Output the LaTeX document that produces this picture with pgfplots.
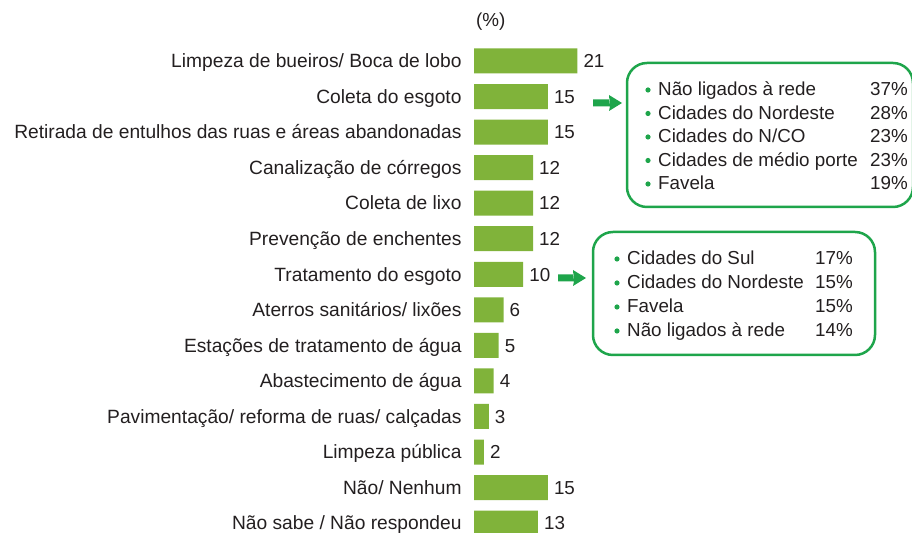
\documentclass[border=0pt]{standalone}
\usepackage{pgfplots}
\pgfplotsset{compat=1.18}
\usepackage{fontspec}
\setmainfont{Liberation Sans}
\definecolor{barg}{HTML}{80B33A}
\definecolor{boxg}{HTML}{1EA54B}
\definecolor{txt}{HTML}{231F20}
\newcommand{\lf}{\fontsize{19.2bp}{21bp}\selectfont}
\newcommand{\tf}{\fontsize{18.8bp}{21bp}\selectfont}
\begin{document}
\begin{tikzpicture}
\path[use as bounding box] (0,0) rectangle (912bp,533bp);
\begin{axis}[
  at={(474bp,489.8bp)}, anchor=north west,
  scale only axis, width=103.32bp, height=497.7bp,
  xmin=0, xmax=21, ymin=-0.5, ymax=13.5, y dir=reverse,
  axis line style={draw=none}, tick style={draw=none}, clip=false,
  xtick=\empty,
  xbar, bar width=25bp,
  ytick={0,...,13},
  yticklabels={Limpeza de bueiros/ Boca de lobo, Coleta do esgoto, Retirada de entulhos das ruas e áreas abandonadas, Canalização de córregos, Coleta de lixo, Prevenção de enchentes, Tratamento do esgoto, Aterros sanitários/ lixões, Estações de tratamento de água, Abastecimento de água, Pavimentação/ reforma de ruas/ calçadas, Limpeza pública, Não/ Nenhum, Não sabe / Não respondeu},
  yticklabel style={font=\lf, text=txt, anchor=base east, inner sep=0pt, xshift=-8bp, yshift=-6.8bp},
  nodes near coords,
  nodes near coords style={font=\tf, text=txt, anchor=base west, inner sep=0pt, xshift=6bp, yshift=-6.8bp},
  /pgf/number format/assume math mode=true,
]
\addplot[fill=barg, draw=none] coordinates {
(21,0) (15,1) (15,2) (12,3) (12,4) (12,5) (10,6) (6,7) (5,8) (4,9) (3,10) (2,11) (15,12) (13,13)};
\end{axis}
\begin{scope}[x=1bp,y=-1bp,yshift=533bp]
\node[font=\tf, text=txt, anchor=base west, inner sep=0pt] at (476,27) {(\%)};
% callout 1
\draw[boxg, line width=2.5bp, rounded corners=20bp] (627,63) rectangle (913,207);
\fill[boxg] (593,99.5) rectangle (610,106.5) -- (609,95) -- (622,103) -- (609,111) -- cycle;
\foreach \t/\p [count=\i from 0] in {Não ligados à rede/37\%, Cidades do Nordeste/28\%, Cidades do N\slash CO/23\%, Cidades de médio porte/23\%, Favela/19\%}{
  \fill[boxg] (648,90+23.5*\i) circle (2.6);
  \node[font=\tf, text=txt, anchor=base west, inner sep=0pt] at (658,96+23.5*\i) {\t};
  \node[font=\tf, text=txt, anchor=base east, inner sep=0pt] at (908,96+23.5*\i) {\p};
}
% callout 2
\draw[boxg, line width=2.5bp, rounded corners=20bp] (593,232) rectangle (875,355);
\fill[boxg] (558,274.5) rectangle (574,281.5) -- (573,270) -- (586,278) -- (573,286) -- cycle;
\foreach \t/\p [count=\i from 0] in {Cidades do Sul/17\%, Cidades do Nordeste/15\%, Favela/15\%, Não ligados à rede/14\%}{
  \fill[boxg] (617,259+24*\i) circle (2.6);
  \node[font=\tf, text=txt, anchor=base west, inner sep=0pt] at (627,265+24*\i) {\t};
  \node[font=\tf, text=txt, anchor=base east, inner sep=0pt] at (853,265+24*\i) {\p};
}
\end{scope}
\end{tikzpicture}
\end{document}
